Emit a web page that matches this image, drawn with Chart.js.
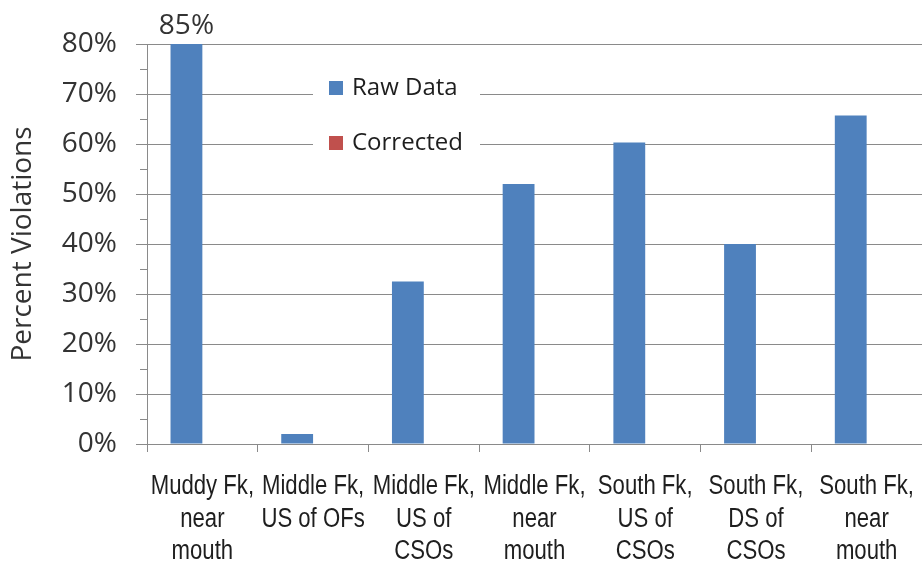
<!DOCTYPE html>
<html>
<head>
<meta charset="utf-8">
<script src="https://cdn.jsdelivr.net/npm/chart.js@4/dist/chart.umd.min.js"></script>
<style>
  html, body { margin: 0; padding: 0; background: #fff; }
  #wrap { width: 922px; height: 561px; position: relative; }
</style>
</head>
<body>
<div id="wrap"><canvas id="c"></canvas></div>
<script>
// Sampling sites (multi-line labels)
const sites = [
  ['Muddy Fk,', 'near', 'mouth'],
  ['Middle Fk,', 'US of OFs'],
  ['Middle Fk,', 'US of', 'CSOs'],
  ['Middle Fk,', 'near', 'mouth'],
  ['South Fk,', 'US of', 'CSOs'],
  ['South Fk,', 'DS of', 'CSOs'],
  ['South Fk,', 'near', 'mouth']
];
// Percent of samples in violation
const rawData = [85, 2, 32.5, 52, 60.3, 40, 65.7];
const corrected = [0, 0, 0, 0, 0, 0, 0];
const yMax = 80;
const yStep = 10;
const minorStep = 5;

const GRID = '#8a8a8a';
const TEXT = '#333333';
const TICK_FONT = "'Open Sans', 'Noto Sans', sans-serif";
const CAT_FONT = "'Liberation Sans', Arial, sans-serif";
const NARROW = 0.82;   // horizontal squeeze for the category labels

// Minor tick marks on the value axis, placed by the scale itself
const minorTicks = {
  id: 'minorTicks',
  afterDraw(chart) {
    const y = chart.scales.y;
    const ctx = chart.ctx;
    ctx.save();
    ctx.strokeStyle = GRID;
    ctx.lineWidth = 1;
    for (let v = minorStep; v < yMax; v += yStep) {
      const py = Math.round(y.getPixelForValue(v)) + 0.5;
      ctx.beginPath();
      ctx.moveTo(y.right - 7, py);
      ctx.lineTo(y.right, py);
      ctx.stroke();
    }
    ctx.restore();
  }
};

// Condensed multi-line category labels under each category
const narrowLabels = {
  id: 'narrowLabels',
  afterDraw(chart) {
    const x = chart.scales.x;
    const ctx = chart.ctx;
    ctx.save();
    ctx.font = "27px " + CAT_FONT;
    ctx.fillStyle = '#1e1e1e';
    ctx.textAlign = 'center';
    ctx.textBaseline = 'middle';
    chart.data.labels.forEach((lines, i) => {
      const cx = x.getPixelForTick(i);
      lines.forEach((t, k) => {
        const cy = x.top + 43 + k * 32.5;
        ctx.save();
        ctx.translate(cx, cy);
        ctx.scale(NARROW, 1);
        ctx.fillText(t, 0, 0);
        ctx.restore();
      });
    });
    ctx.restore();
  }
};

// Value labels for bars that run past the top of the axis
const overflowLabels = {
  id: 'overflowLabels',
  afterDatasetsDraw(chart) {
    const ctx = chart.ctx;
    const meta = chart.getDatasetMeta(0);
    ctx.save();
    ctx.font = "28px " + TICK_FONT;
    ctx.fillStyle = TEXT;
    ctx.textAlign = 'center';
    ctx.textBaseline = 'middle';
    chart.data.datasets[0].data.forEach((v, i) => {
      if (v > yMax) {
        ctx.fillText(v + '%', meta.data[i].x, chart.chartArea.top - 18);
      }
    });
    ctx.restore();
  }
};

// Legend box sitting inside the plot area
const insideLegend = {
  id: 'insideLegend',
  afterDatasetsDraw(chart) {
    const ctx = chart.ctx;
    const box = { x: 313, y: 62, w: 167, h: 103 };
    ctx.save();
    ctx.fillStyle = '#fff';
    ctx.fillRect(box.x, box.y, box.w, box.h);
    ctx.font = "24px " + TICK_FONT;
    ctx.textBaseline = 'middle';
    chart.data.datasets.forEach((ds, i) => {
      const cy = 88 + i * 55;
      ctx.fillStyle = ds.backgroundColor;
      ctx.fillRect(329, cy - 7, 14, 14);
      ctx.fillStyle = '#1e1e1e';
      ctx.fillText(ds.label, 352, cy);
    });
    ctx.restore();
  }
};

new Chart(document.getElementById('c'), {
  type: 'bar',
  data: {
    labels: sites,
    datasets: [
      { label: 'Raw Data', data: rawData, backgroundColor: '#4F81BD',
        categoryPercentage: 0.575, barPercentage: 1 },
      { label: 'Corrected', data: corrected, backgroundColor: '#C0504D',
        categoryPercentage: 0.575, barPercentage: 1 }
    ]
  },
  options: {
    responsive: true,
    maintainAspectRatio: false,
    animation: false,
    layout: { padding: { top: 44, right: 0, left: 0, bottom: 0 } },
    plugins: {
      legend: { display: false },
      tooltip: { enabled: false }
    },
    scales: {
      x: {
        grid: {
          offset: true,
          drawOnChartArea: false,
          drawTicks: true,
          tickLength: 8,
          color: GRID
        },
        border: { color: GRID, width: 1 },
        ticks: { display: false, autoSkip: false },
        afterFit(s) { s.height = 117; }
      },
      y: {
        min: 0,
        max: yMax,
        grid: {
          color: GRID,
          tickLength: 11,
          drawTicks: true
        },
        border: { color: GRID, width: 1 },
        ticks: {
          stepSize: yStep,
          color: TEXT,
          padding: 19,
          font: { family: TICK_FONT, size: 28 },
          callback: v => v + '%'
        },
        title: {
          display: true,
          text: 'Percent Violations',
          color: TEXT,
          font: { family: TICK_FONT, size: 28, lineHeight: 1 },
          padding: { top: 9, bottom: 0 }
        },
        afterFit(s) { s.width = 147; }
      }
    }
  },
  plugins: [minorTicks, narrowLabels, overflowLabels, insideLegend]
});
</script>
</body>
</html>
